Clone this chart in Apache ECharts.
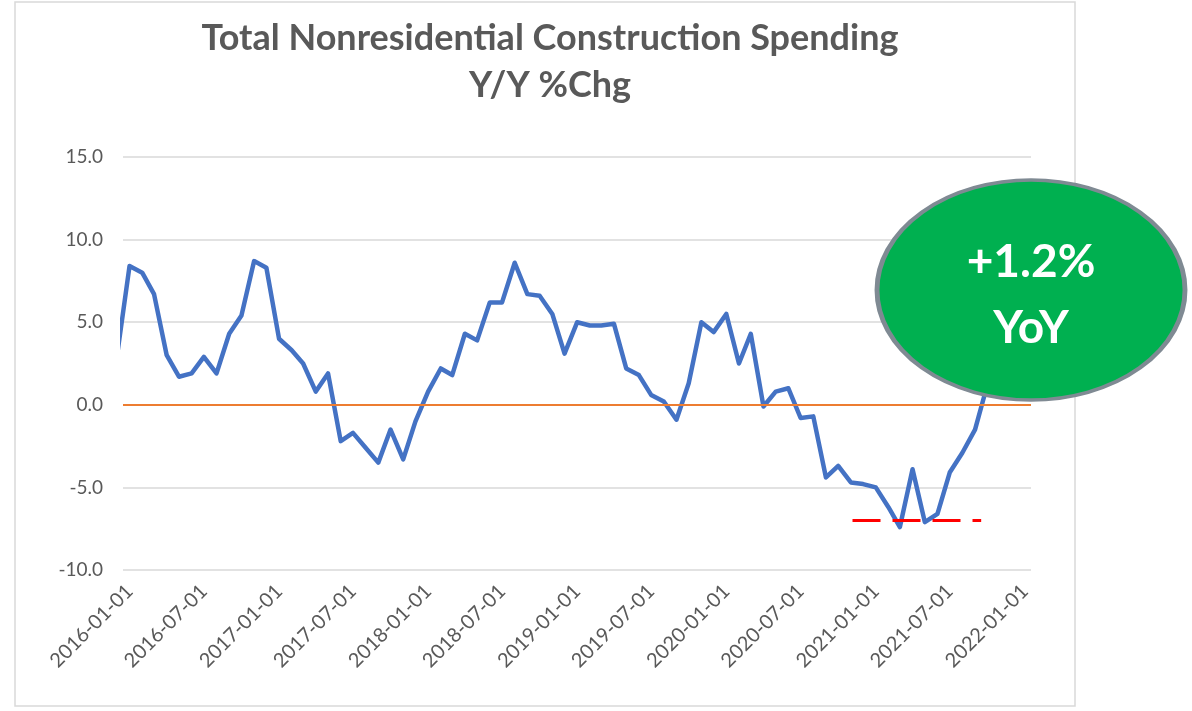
<!DOCTYPE html>
<html>
<head>
<meta charset="utf-8">
<title>Total Nonresidential Construction Spending</title>
<script src="https://cdn.jsdelivr.net/npm/echarts@6/dist/echarts.min.js"></script>
<style>
  html, body { margin: 0; padding: 0; background: #fff; }
  #chart { width: 1192px; height: 711px; }
</style>
</head>
<body>
<div id="chart"></div>
<script>
// monthly observations; the 2015-12 point sits just left of the plot edge and gets clipped
const months = [
  '2015-12',
  '2016-01', '2016-02', '2016-03', '2016-04', '2016-05', '2016-06',
  '2016-07', '2016-08', '2016-09', '2016-10', '2016-11', '2016-12',
  '2017-01', '2017-02', '2017-03', '2017-04', '2017-05', '2017-06',
  '2017-07', '2017-08', '2017-09', '2017-10', '2017-11', '2017-12',
  '2018-01', '2018-02', '2018-03', '2018-04', '2018-05', '2018-06',
  '2018-07', '2018-08', '2018-09', '2018-10', '2018-11', '2018-12',
  '2019-01', '2019-02', '2019-03', '2019-04', '2019-05', '2019-06',
  '2019-07', '2019-08', '2019-09', '2019-10', '2019-11', '2019-12',
  '2020-01', '2020-02', '2020-03', '2020-04', '2020-05', '2020-06',
  '2020-07', '2020-08', '2020-09', '2020-10', '2020-11', '2020-12',
  '2021-01', '2021-02', '2021-03', '2021-04', '2021-05', '2021-06',
  '2021-07', '2021-08', '2021-09', '2021-10'
]
// Y/Y % change
const yoy = [
  2.9,
  8.4, 8.0, 6.7, 3.0, 1.7, 1.9, 2.9, 1.9, 4.3, 5.4, 8.7, 8.3,
  4.0, 3.3, 2.5, 0.8, 1.9, -2.2, -1.7, -2.6, -3.5, -1.5, -3.3, -1.0,
  0.8, 2.2, 1.8, 4.3, 3.9, 6.2, 6.2, 8.6, 6.7, 6.6, 5.5, 3.1,
  5.0, 4.8, 4.8, 4.9, 2.2, 1.8, 0.6, 0.2, -0.9, 1.3, 5.0, 4.4,
  5.5, 2.5, 4.3, -0.1, 0.8, 1.0, -0.8, -0.7, -4.4, -3.7, -4.7, -4.8,
  -5.0, -6.2, -7.4, -3.9, -7.1, -6.6, -4.1, -2.9, -1.5, 1.2
]
const xTickDates = [
  '2016-01-01', '2016-07-01', '2017-01-01', '2017-07-01', '2018-01-01',
  '2018-07-01', '2019-01-01', '2019-07-01', '2020-01-01', '2020-07-01',
  '2021-01-01', '2021-07-01', '2022-01-01'
]
const xRange = ['2015-12-16', '2022-01-16']
const yMin = -10
const yMax = 15
const yStep = 5
// hand-drawn "floor" marker
const floorLevel = -7.0
const floorSpan = ['2020-11-05', '2021-09-16']
const calloutLines = ['+1.2%', 'YoY']

const utc = d => +new Date(d + 'T00:00:00Z')
const points = months.map((m, i) => [utc(m + '-01'), yoy[i]])

const myChart = echarts.init(document.getElementById('chart'))
myChart.setOption({
  animation: false,
  title: {
    text: 'Total Nonresidential Construction Spending\nY/Y %Chg',
    left: 545,
    top: 10,
    textAlign: 'center',
    textStyle: {
      fontFamily: 'Lato',
      fontSize: 36,
      fontWeight: 'bold',
      color: '#595959',
      lineHeight: 47
    }
  },
  grid: {
    left: 123,
    right: 161,
    top: 157,
    bottom: 141,
    outerBoundsMode: 'none'
  },
  // dates as timestamps on a value axis, so the label positions can be listed
  xAxis: {
    type: 'value',
    min: utc(xRange[0]),
    max: utc(xRange[1]),
    axisLine: { show: false },
    axisTick: { show: false },
    splitLine: { show: false },
    axisLabel: {
      customValues: xTickDates.map(utc),
      rotate: 45,
      margin: 18,
      color: '#595959',
      fontFamily: 'Lato',
      fontSize: 20,
      hideOverlap: false,
      formatter: v => new Date(v).toISOString().slice(0, 10)
    }
  },
  yAxis: {
    type: 'value',
    min: yMin,
    max: yMax,
    interval: yStep,
    axisLine: { show: false },
    axisTick: { show: false },
    axisLabel: {
      margin: 20,
      color: '#595959',
      fontFamily: 'Lato',
      fontSize: 19,
      formatter: v => v.toFixed(1)
    },
    splitLine: {
      lineStyle: { color: '#d9d9d9', width: 1.5 }
    }
  },
  series: [
    {
      // orange zero line, drawn under the data line
      name: 'zero',
      type: 'line',
      data: [],
      z: 1,
      markLine: {
        silent: true,
        symbol: 'none',
        label: { show: false },
        lineStyle: { color: '#ED7D31', width: 2, type: 'solid' },
        data: [{ yAxis: 0 }]
      }
    },
    {
      name: 'Y/Y %Chg',
      type: 'line',
      data: points,
      z: 2,
      symbol: 'none',
      clip: true,
      lineStyle: { color: '#4472C4', width: 4.5, cap: 'round', join: 'round' }
    },
    {
      name: 'floor',
      type: 'line',
      data: [],
      z: 3,
      markLine: {
        silent: true,
        symbol: 'none',
        label: { show: false },
        lineStyle: { color: '#FF0000', width: 3, type: [28, 12] },
        data: [[
          { coord: [utc(floorSpan[0]), floorLevel] },
          { coord: [utc(floorSpan[1]), floorLevel] }
        ]]
      }
    }
  ],
  graphic: [
    {
      // chart area border
      type: 'rect',
      z: 0,
      silent: true,
      shape: { x: 15, y: 2, width: 1060, height: 704 },
      style: { fill: 'none', stroke: '#d9d9d9', lineWidth: 1.5 }
    },
    {
      type: 'circle',
      z: 100,
      x: 1031,
      y: 290,
      scaleX: 1.4,
      shape: { cx: 0, cy: 0, r: 110 },
      style: { fill: '#00B050', stroke: '#7F8A93', lineWidth: 3.5 }
    },
    {
      type: 'text',
      z: 101,
      x: 1031,
      y: 262,
      style: {
        text: calloutLines[0],
        fill: '#fff',
        font: 'bold 46px Lato',
        align: 'center',
        verticalAlign: 'middle'
      }
    },
    {
      type: 'text',
      z: 101,
      x: 1031,
      y: 328,
      style: {
        text: calloutLines[1],
        fill: '#fff',
        font: 'bold 46px Lato',
        align: 'center',
        verticalAlign: 'middle'
      }
    }
  ]
})
</script>
</body>
</html>
